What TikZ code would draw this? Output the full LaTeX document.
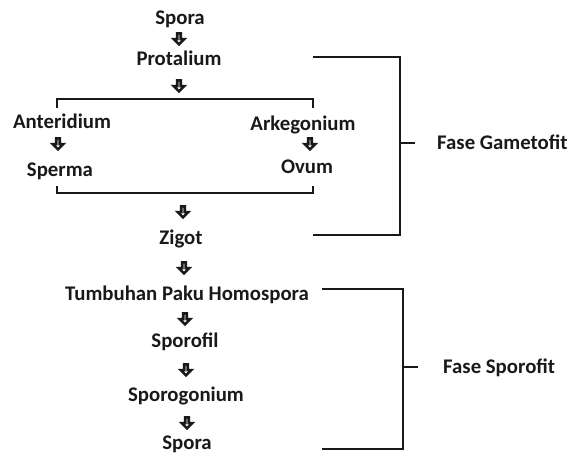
\documentclass[tikz,border=0pt]{standalone}
\usepackage{fontspec}
\setmainfont{Carlito}
\usetikzlibrary{shapes.arrows}
\tikzset{
  lbl/.style={anchor=base, inner sep=0pt, font=\fontsize{20.8}{24}\selectfont\bfseries, text=black!90},
  darr/.style={single arrow, draw=black!90, fill=white, line width=2.6pt, shape border rotate=270,
    minimum width=10.5pt, minimum height=11pt, single arrow head extend=2.6pt, inner sep=0pt},
  brk/.style={draw=black!90, line width=2.6pt},
}
\begin{document}
\begin{tikzpicture}[x=1pt,y=-1pt]
\useasboundingbox (0,0) rectangle (571,454);
% labels
\node[lbl] (spora1) at (180,24.5) {Spora};
\node[lbl] (protalium) at (179,65.5) {Protalium};
\node[lbl] (anteridium) at (62,128.5) {Anteridium};
\node[lbl] (arkegonium) at (303,130.5) {Arkegonium};
\node[lbl] (sperma) at (60,176.5) {Sperma};
\node[lbl] (ovum) at (307,173.5) {Ovum};
\node[lbl] (zigot) at (181,244.5) {Zigot};
\node[lbl] (tumbuhan) at (187,300.5) {Tumbuhan Paku Homospora};
\node[lbl] (sporofil) at (185,347.5) {Sporofil};
\node[lbl] (sporogonium) at (186,401.5) {Sporogonium};
\node[lbl] (spora2) at (187,449.5) {Spora};
\node[lbl, anchor=base west] (gametofit) at (437,149.5) {Fase Gametofit};
\node[lbl, anchor=base west] (sporofit) at (443,373.5) {Fase Sporofit};
% arrows
\node[darr] (a1) at (179,38) {};
\node[darr] (a2) at (179,85) {};
\node[darr] (a3) at (58,143) {};
\node[darr] (a4) at (310,143) {};
\node[darr] (a5) at (183,211) {};
\node[darr] (a6) at (184,267) {};
\node[darr] (a7) at (185,318) {};
\node[darr] (a8) at (186,369) {};
\node[darr] (a9) at (187,422) {};
% inner brackets
\coordinate (tl) at (57,108);
\coordinate (tr) at (313,108);
\coordinate (bl) at (57,186);
\coordinate (br) at (313,186);
\draw[brk] (tl) -- (57,99) -- (313,99) -- (tr);
\draw[brk] (bl) -- (57,193) -- (313,193) -- (br);
% gametofit bracket
\coordinate (g1) at (313,57);
\coordinate (g2) at (313,235);
\draw[brk] (g1) -- (400,57) -- (400,235) -- (g2);
\draw[brk] (400,143) -- (415,143);
% sporofit bracket
\coordinate (s1) at (322,289);
\coordinate (s2) at (322,449);
\draw[brk] (s1) -- (403,289) -- (403,449) -- (s2);
\draw[brk] (403,367) -- (418,367);
\end{tikzpicture}
\end{document}
